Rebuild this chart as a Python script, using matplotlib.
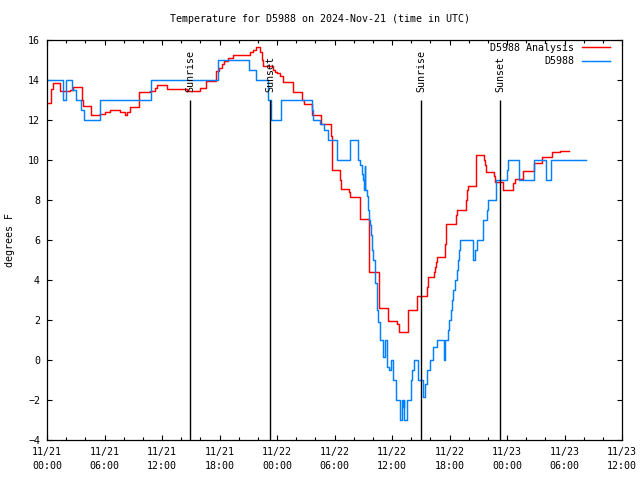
import matplotlib
matplotlib.use("Agg")
import matplotlib.pyplot as plt
import numpy as np

# ---- data (hours since 2024-11-21 00:00 UTC) ----
analysis_t = [0.0, 0.45, 0.66, 1.32, 2.4, 2.75, 3.62, 3.79, 4.56, 5.53, 6.05, 6.57, 7.62, 8.14, 8.38,
              8.66, 9.6, 10.75, 11.3, 11.5, 12.5, 14.64, 15.97, 16.56, 17.6, 17.95, 18.23, 18.5, 18.92,
              19.45, 21.2, 21.5, 21.8, 22.2, 22.4, 22.57, 23.55, 23.8, 24.03, 24.3, 24.66, 25.7, 26.57,
              26.85, 27.68, 28.6, 29.63, 29.7, 30.57, 30.65, 31.5, 31.6, 32.66, 32.7, 33.6, 34.64,
              35.6, 36.5, 36.7, 37.64, 38.58, 38.64, 39.68, 39.8, 40.38, 40.48, 40.6, 40.73, 41.53,
              41.63, 42.7, 42.8, 43.7, 43.8, 43.9, 44.73, 44.8, 45.63, 45.7, 45.8, 46.68, 46.75, 47.6,
              48.6, 48.84, 49.64, 50.85, 51.7, 52.66, 53.58, 54.5]
analysis_v = [12.83, 13.53, 13.87, 13.47, 13.52, 13.63, 13.0, 12.72, 12.25, 12.3, 12.4, 12.5, 12.4, 12.25, 12.4,
              12.67, 13.42, 13.45, 13.6, 13.75, 13.55, 13.45, 13.6, 13.95, 14.47, 14.6, 14.8, 14.97, 15.1,
              15.25, 15.4, 15.5, 15.63, 15.4, 15.0, 14.7, 14.5, 14.4, 14.37, 14.2, 13.92, 13.42, 13.0,
              12.8, 12.25, 11.78, 11.2, 9.5, 9.0, 8.53, 8.4, 8.13, 7.4, 7.05, 4.42, 2.58,
              1.95, 1.8, 1.42, 2.5, 2.9, 3.2, 3.67, 4.17, 4.42, 4.67, 4.9, 5.17, 5.8,
              6.8, 7.25, 7.5, 8.0, 8.5, 8.7, 9.5, 10.25, 10.0, 9.75, 9.42, 9.2, 8.92, 8.5,
              8.83, 9.05, 9.45, 9.83, 10.13, 10.38, 10.45, 10.45]

obs_t = [0.0, 1.67, 2.0, 2.6, 3.0, 3.5, 3.86, 5.5, 10.85, 17.8, 21.1, 21.8, 23.1, 23.35, 24.4, 27.7, 27.8,
         28.5, 28.9, 29.3, 30.3, 31.6, 32.45, 32.66, 32.84, 32.94, 33.05, 33.1, 33.15, 33.2, 33.36,
         33.47, 33.6, 33.7, 33.8, 33.9, 34.05, 34.2, 34.4, 34.57, 34.75, 35.1, 35.3, 35.45, 35.7,
         35.86, 36.07, 36.42, 36.84, 37.0, 37.15, 37.2, 37.3, 37.6, 37.95, 38.1, 38.3, 38.75,
         39.27, 39.4, 39.6, 39.97, 40.3, 40.66, 41.38, 41.5, 41.87, 41.97, 42.15, 42.3, 42.4,
         42.57, 42.75, 42.86, 43.0, 43.1, 44.4, 44.5, 44.67, 44.85, 45.5, 45.9, 46.05, 46.8,
         48.0, 48.1, 49.2, 50.85, 52.07, 52.56, 56.2]
obs_v = [14, 13, 14, 13.5, 13, 12.5, 12, 13, 14, 15, 14.5, 14, 13, 12, 13, 12.5, 12,
         11.8, 11.5, 11, 10, 11, 10, 9.75, 9.3, 9.0, 8.8, 8.5, 9.7, 8.5, 8.2,
         7.5, 7.0, 6.75, 6.25, 5.5, 5.0, 3.83, 2.5, 1.92, 1.0, 0.17, 1.0, -0.33, -0.5,
         0.0, -1.0, -2.0, -3.0, -2.0, -2.33, -2.0, -3.0, -2.0, -1.0, -0.5, 0.0, -1.0,
         -1.83, -1.2, -0.5, 0.0, 0.67, 1.0, 0.0, 1.0, 1.5, 2.0, 2.5, 3.0, 3.5,
         4.0, 4.5, 5.0, 5.5, 6.0, 5.5, 5.0, 5.5, 6.0, 7.0, 7.5, 8.0, 9.0,
         9.5, 10.0, 9.0, 10.0, 9.0, 10.0, 10.0]

event_t = [14.92, 23.29, 39.05, 47.27]
event_labels = ["Sunrise", "Sunset", "Sunrise", "Sunset"]

xtick_pos = [0, 6, 12, 18, 24, 30, 36, 42, 48, 54, 60]
xtick_labels = ["11/21\n00:00", "11/21\n06:00", "11/21\n12:00", "11/21\n18:00",
                "11/22\n00:00", "11/22\n06:00", "11/22\n12:00", "11/22\n18:00",
                "11/23\n00:00", "11/23\n06:00", "11/23\n12:00"]
ytick_pos = [-4, -2, 0, 2, 4, 6, 8, 10, 12, 14, 16]

FONT = "DejaVu Sans Mono"
FS = 7.2
plt.rcParams['font.family'] = FONT
plt.rcParams['font.size'] = FS

fig = plt.figure(figsize=(6.4, 4.8), dpi=100)
ax = fig.add_axes([47/640, 1-440/480, 575/640, 400/480])

ax.step(analysis_t, analysis_v, where='post', color='#ff0000', lw=1.05, label='D5988 Analysis')
ax.step(obs_t, obs_v, where='post', color='#0080ff', lw=1.05, label='D5988')

for t, lab in zip(event_t, event_labels):
    ax.vlines(t, -4, 13, color='black', lw=1.0)
    ax.text(t + 0.05, 13.4, lab, rotation=90, ha='center', va='bottom', fontsize=FS)

ax.set_xlim(0, 60)
ax.set_ylim(-4, 16)
ax.set_xticks(xtick_pos)
ax.set_xticklabels(xtick_labels, linespacing=1.45)
ax.set_xticks(np.arange(0, 61, 2), minor=True)
ax.set_yticks(ytick_pos)
ax.tick_params(which='both', direction='in', top=True, right=True, width=0.8)
ax.tick_params(which='major', length=3.5, labelsize=FS)
ax.tick_params(axis='x', which='major', pad=5)
ax.tick_params(axis='y', which='major', pad=5)
ax.tick_params(which='minor', length=2)
for s in ax.spines.values():
    s.set_linewidth(0.9)

leg = ax.legend(loc='upper right', bbox_to_anchor=((610-47)/575, 1 - 3/400), borderaxespad=0,
                borderpad=0, frameon=False, markerfirst=False, handlelength=2.8,
                handletextpad=0.8, labelspacing=0.35, fontsize=FS)

fig.text(0.5, 1 - 19/480, "Temperature for D5988 on 2024-Nov-21 (time in UTC)", ha='center', va='center', fontsize=FS)
fig.text(10/640, 0.5, "degrees F", rotation=90, ha='center', va='center', fontsize=FS)

fig.savefig("out.png", dpi=100)
